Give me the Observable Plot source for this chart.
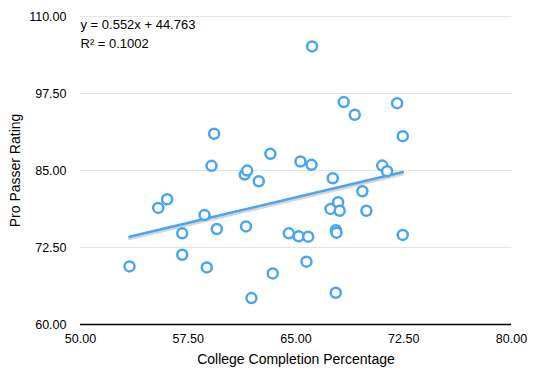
<!DOCTYPE html>
<html>
<head>
<meta charset="utf-8">
<script src="https://cdn.jsdelivr.net/npm/d3@7"></script>
<script src="https://cdn.jsdelivr.net/npm/@observablehq/plot@0.6"></script>
<style>
  html, body { margin: 0; padding: 0; background: #fff; }
  #chart { width: 536px; height: 376px; }
</style>
</head>
<body>
<div id="chart"></div>
<script>
const completionPct = [53.41, 55.41, 56.03, 57.08, 57.08, 58.63, 58.79, 59.12, 59.30, 59.49,
  61.43, 61.60, 61.52, 61.90, 62.41, 63.22, 63.38, 64.50, 65.31, 65.19,
  65.85, 65.73, 66.08, 66.12, 67.56, 67.40, 67.93, 68.04, 67.78, 67.82,
  67.77, 68.32, 69.09, 69.62, 69.90, 71.00, 71.34, 72.04, 72.43, 72.43];
const passerRating = [69.43, 78.93, 80.33, 74.80, 71.33, 77.76, 69.27, 85.76, 90.96, 75.51,
  84.34, 84.99, 75.92, 64.29, 83.25, 87.71, 68.29, 74.80, 86.46, 74.31,
  74.26, 70.20, 85.92, 105.15, 83.74, 78.76, 79.84, 78.46, 75.32, 74.91,
  65.15, 96.10, 94.05, 81.63, 78.46, 85.80, 84.88, 95.93, 90.57, 74.54];
const xTicks = [50, 57.5, 65, 72.5, 80];
const yTicks = [60, 72.5, 85, 97.5, 110];
const slope = 0.552;
const intercept = 44.763;
const eqLines = ["y = 0.552x + 44.763", "R\u00b2 = 0.1002"];

const points = completionPct.map((x, i) => ({x, y: passerRating[i]}));
const xMin = d3.min(completionPct), xMax = d3.max(completionPct);
const trend = [xMin, xMax].map(x => ({x, y: slope * x + intercept}));

const blue = "#4aa5f0";
const font = "'Liberation Sans', Arial, Helvetica, sans-serif";

const chart = Plot.plot({
  width: 536,
  height: 376,
  marginLeft: 80,
  marginRight: 25,
  marginTop: 16,
  marginBottom: 52,
  style: {fontFamily: font, fontSize: "12px", color: "#000", background: "#fff"},
  x: {domain: [50, 80]},
  y: {domain: [60, 110]},
  marks: [
    Plot.gridY(yTicks.filter(d => d > 60), {stroke: "#e4e4e4", strokeOpacity: 1, strokeWidth: 1}),
    Plot.axisY({ticks: yTicks, tickFormat: d3.format(".2f"), tickSize: 0, tickPadding: 14,
      label: null, fontSize: 12.5}),
    Plot.axisX({ticks: xTicks, tickFormat: d3.format(".2f"), tickSize: 0, tickPadding: 10,
      label: null, fontSize: 12.5}),
    Plot.text(["Pro Passer Rating"], {frameAnchor: "left", dx: -65, rotate: -90, fontSize: 14,
      textAnchor: "middle", lineAnchor: "middle"}),
    Plot.text(["College Completion Percentage"], {frameAnchor: "bottom", dy: 35, fontSize: 14,
      textAnchor: "middle", lineAnchor: "middle"}),
    Plot.ruleY([60], {stroke: "#000", strokeWidth: 1.5}),
    Plot.line(trend, {x: "x", y: "y", stroke: "#888", strokeOpacity: 0.35, strokeWidth: 3, dy: 2}),
    Plot.line(trend, {x: "x", y: "y", stroke: blue, strokeWidth: 2.5}),
    Plot.dot(points, {x: "x", y: "y", r: 5, stroke: blue, strokeWidth: 2.5, fill: "#fff"}),
    Plot.text([eqLines[0]], {frameAnchor: "top-left", dy: 3, textAnchor: "start", fontSize: 13,
      lineAnchor: "top"}),
    Plot.text([eqLines[1]], {frameAnchor: "top-left", dy: 22, textAnchor: "start", fontSize: 13,
      lineAnchor: "top"})
  ]
});
document.getElementById("chart").appendChild(chart);
</script>
</body>
</html>
